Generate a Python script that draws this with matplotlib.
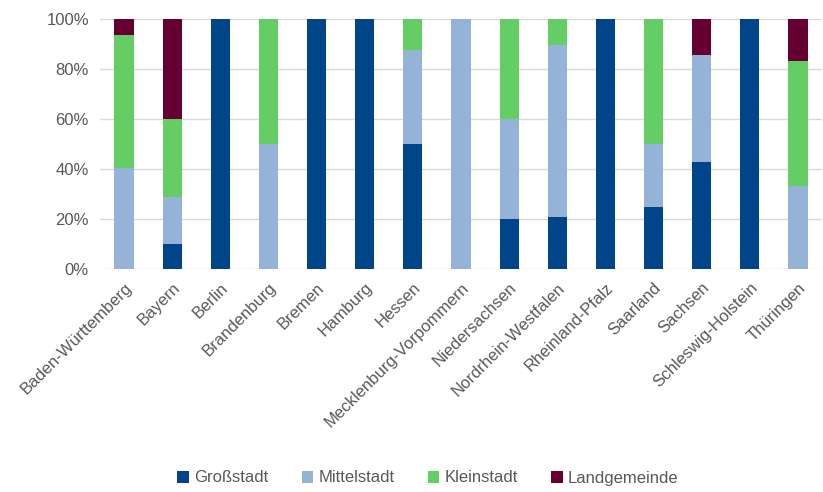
import matplotlib.pyplot as plt
import numpy as np

plt.rcParams['font.family'] = ['Liberation Sans', 'DejaVu Sans']

# Anteile je Bundesland (in %)
laender = ['Baden-Württemberg', 'Bayern', 'Berlin', 'Brandenburg', 'Bremen', 'Hamburg',
           'Hessen', 'Mecklenburg-Vorpommern', 'Niedersachsen', 'Nordrhein-Westfalen',
           'Rheinland-Pfalz', 'Saarland', 'Sachsen', 'Schleswig-Holstein', 'Thüringen']
grossstadt = [0, 10, 100, 0, 100, 100, 50, 0, 20, 20.7, 100, 25, 42.9, 100, 0]
mittelstadt = [40.6, 19, 0, 50, 0, 0, 37.5, 100, 40, 69.0, 0, 25, 42.9, 0, 33.3]
kleinstadt = [53.1, 31, 0, 50, 0, 0, 12.5, 0, 40, 10.3, 0, 50, 0, 0, 50]
landgemeinde = [6.3, 40, 0, 0, 0, 0, 0, 0, 0, 0, 0, 0, 14.2, 0, 16.7]

serien = ['Großstadt', 'Mittelstadt', 'Kleinstadt', 'Landgemeinde']
farben = ['#00458a', '#95b3d7', '#64cd64', '#660033']
werte = [grossstadt, mittelstadt, kleinstadt, landgemeinde]

fig = plt.figure(figsize=(8.23, 4.92), dpi=100)
ax = fig.add_axes([100 / 823, 1 - 269 / 492, 722 / 823, 250 / 492])

x = np.arange(len(laender))
unten = np.zeros(len(laender))
for name, farbe, w in zip(serien, farben, werte):
    ax.bar(x, w, 0.4, bottom=unten, color=farbe, label=name, zorder=3)
    unten += np.array(w)

ax.set_xlim(-0.5, len(laender) - 0.5)
ax.set_ylim(0, 100)
ax.set_yticks(range(0, 101, 20))
ax.set_yticklabels([f'{v}%' for v in range(0, 101, 20)])
ax.set_xticks(x)
ax.set_xticklabels(laender, rotation=45, ha='right', rotation_mode='anchor')
ax.tick_params(axis='both', length=0, labelsize=12, colors='#595959', pad=8)
ax.grid(axis='y', color='#d9d9d9', linewidth=1, zorder=0)
for s in ax.spines.values():
    s.set_visible(False)

fig.legend(loc='center', bbox_to_anchor=(0.52, 1 - 478 / 492), ncol=4, frameon=False,
           handlelength=0.7, handleheight=0.7, handletextpad=0.3, columnspacing=2.0,
           prop={'size': 12}, labelcolor='#595959')

fig.savefig('out.png', dpi=100)
